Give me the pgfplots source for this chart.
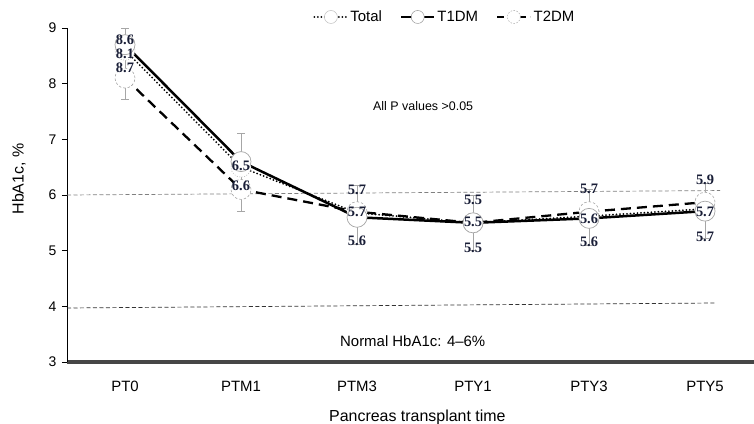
\documentclass[border=0pt]{standalone}
\usepackage{fontspec}
\setmainfont{Liberation Sans}
\newfontfamily\numfont{Liberation Serif}
\usepackage{pgfplots}
\pgfplotsset{compat=1.18}
\definecolor{lblcol}{RGB}{25,30,55}
\definecolor{axgray}{RGB}{70,70,70}

\begin{document}
\begin{tikzpicture}
\begin{axis}[
  set layers=standard,
  scale only axis,
  width=687bp, height=334bp,
  xmin=-0.5, xmax=5.422,
  ymin=3, ymax=9,
  axis x line*=bottom, axis y line*=left,
  x axis line style={-, line width=3bp, draw=axgray},
  y axis line style={-, line width=0.8bp, draw=black},
  xtick={0,...,5},
  xticklabels={PT0,PTM1,PTM3,PTY1,PTY3,PTY5},
  xtick style={draw=none},
  xticklabel style={font=\fontsize{15}{17}\selectfont, yshift=-11bp},
  ytick={3,...,9},
  tick align=outside,
  major tick length=5bp,
  ytick style={draw=black, line width=0.6bp},
  yticklabel style={font=\fontsize{14}{16}\selectfont, xshift=-2bp},
  /pgf/number format/assume math mode=true,
  xlabel={Pancreas transplant time},
  xlabel style={at={(axis description cs:0.51,0)}, anchor=north, inner sep=0pt,
    yshift=-48bp, font=\fontsize{16}{18}\selectfont},
  ylabel={HbA1c, \%},
  ylabel style={at={(axis description cs:-0.0699,0.548)}, anchor=center, inner sep=0pt,
    font=\fontsize{16}{18}\selectfont},
  clip=false,
  legend columns=-1,
  legend style={at={(axis description cs:0.55,1.033)}, anchor=center, draw=none, fill=none,
    font=\fontsize{15}{17}\selectfont, inner sep=1bp,
    /tikz/every even column/.append style={column sep=16bp}},
  legend image code/.code={\draw[mark repeat=2, mark phase=2, #1] plot coordinates {(0bp,0bp) (16.5bp,0bp) (33bp,0bp)};},
]
% reference lines (normal range 4-6 %)
\addplot[forget plot, gray, line width=0.7bp, dash pattern=on 4bp off 2.5bp]
  coordinates {(-0.5,6.0) (5.13,6.08)};
\addplot[forget plot, black!80, line width=0.7bp, dash pattern=on 4bp off 2.5bp]
  coordinates {(-0.5,3.97) (5.09,4.06)};

% error bars
\addplot[forget plot, draw=none, mark=none,
  error bars/.cd, y dir=both, y explicit,
  error bar style={draw=gray!70, line width=0.9bp},
  error mark options={draw=gray!70, rotate=90, mark size=4bp, line width=0.9bp}]
  coordinates {(0,8.36) +- (0,0.64) (1,6.41) +- (0,0.70) (2,5.65) +- (0,0.53)
               (3,5.50) +- (0,0.50) (4,5.60) +- (0,0.50) (5,5.71) +- (0,0.49)};

% lines
\addplot[forget plot, black, line width=2.3bp, dash pattern=on 10bp off 6bp]
  coordinates {(0,8.1) (1,6.1) (2,5.7) (3,5.5) (4,5.7) (5,5.87)};
\addplot[forget plot, black, line width=2bp, line cap=round, dash pattern=on 0bp off 3.5bp]
  coordinates {(0,8.6) (1,6.5) (2,5.68) (3,5.5) (4,5.62) (5,5.75)};
\addplot[forget plot, black, line width=2.5bp]
  coordinates {(0,8.7) (1,6.6) (2,5.6) (3,5.5) (4,5.58) (5,5.71)};

% markers
\addplot[forget plot, only marks, mark=*, mark size=10bp,
  mark options={fill=white, draw=gray!50, line width=0.6bp, dash pattern=on 1bp off 1.5bp}]
  coordinates {(0,8.6) (1,6.5) (2,5.68) (3,5.5) (4,5.62) (5,5.75)};
\addplot[forget plot, only marks, mark=*, mark size=10bp,
  mark options={fill=white, draw=gray!70, line width=0.6bp, dash pattern=on 2.5bp off 2bp}]
  coordinates {(0,8.1) (1,6.1) (2,5.7) (3,5.5) (4,5.7) (5,5.87)};
\addplot[forget plot, only marks, mark=*, mark size=10bp,
  mark options={fill=white, draw=gray!70, line width=0.7bp, solid}]
  coordinates {(0,8.7) (1,6.6) (2,5.6) (3,5.5) (4,5.58) (5,5.71)};

% legend
\addlegendimage{black, line width=2bp, line cap=round, dash pattern=on 0bp off 3.5bp,
  mark=*, mark size=6.5bp, mark options={fill=white, draw=gray!50, line width=0.5bp, solid}}
\addlegendentry{Total}
\addlegendimage{black, line width=2.5bp,
  mark=*, mark size=6.5bp, mark options={fill=white, draw=gray!80, line width=0.5bp, solid}}
\addlegendentry{T1DM}
\addlegendimage{black, line width=2.5bp, dash pattern=on 7bp off 4bp,
  mark=*, mark size=6.5bp, mark options={fill=white, draw=gray!70, line width=0.5bp, dash pattern=on 1.5bp off 1.5bp}}
\addlegendentry{T2DM}

% value labels
\begin{pgfonlayer}{axis foreground}
\begin{scope}[every node/.style={font=\numfont\bfseries\fontsize{14.5}{14.5}\selectfont, text=lblcol, inner sep=0pt}]
\node at (axis cs:0,8.79) {8.6};
\node at (axis cs:0,8.54) {8.1};
\node at (axis cs:0,8.29) {8.7};
\node at (axis cs:1,6.53) {6.5};
\node at (axis cs:1,6.16) {6.6};
\node at (axis cs:2,6.09) {5.7};
\node at (axis cs:2,5.69) {5.7};
\node at (axis cs:2,5.17) {5.6};
\node at (axis cs:3,5.91) {5.5};
\node at (axis cs:3,5.51) {5.5};
\node at (axis cs:3,5.05) {5.5};
\node at (axis cs:4,6.11) {5.7};
\node at (axis cs:4,5.57) {5.6};
\node at (axis cs:4,5.15) {5.6};
\node at (axis cs:5,6.27) {5.9};
\node at (axis cs:5,5.69) {5.7};
\node at (axis cs:5,5.24) {5.7};
\end{scope}
\end{pgfonlayer}

\node[font=\fontsize{12.5}{14}\selectfont] at (axis cs:2.57,7.6) {All P values >0.05};
\node[font=\fontsize{15}{17}\selectfont] at (axis cs:2.48,3.38) {Normal HbA1c: 4–6\%};
\end{axis}
\pgfresetboundingbox
\path[use as bounding box] (-67bp,-62bp) rectangle (687bp,362bp);
\end{tikzpicture}
\end{document}
